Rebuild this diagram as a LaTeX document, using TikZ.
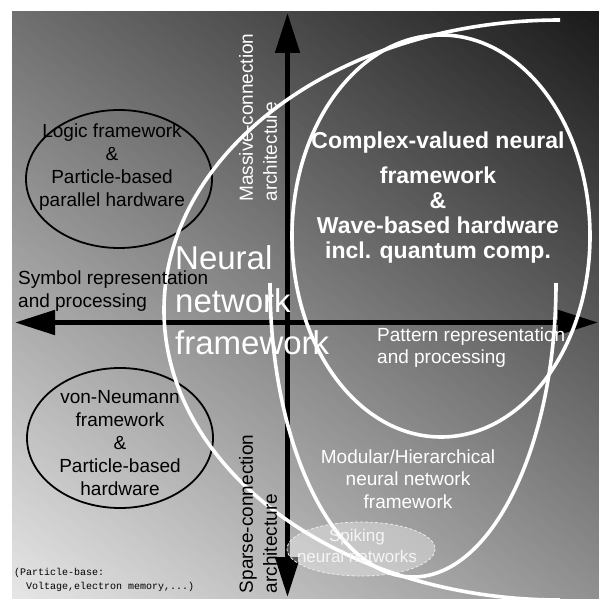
\documentclass[tikz,border=0pt]{standalone}
\usepackage{fontspec}
\setmainfont{Liberation Sans}
\setmonofont{Liberation Mono}
\usetikzlibrary{arrows.meta}

\begin{document}
\begin{tikzpicture}[x=1pt,y=-1pt,
		axisarrow/.style={line width=5pt,{Triangle[length=40pt,width=24pt]}-{Triangle[length=40pt,width=24pt]}},
		whitecurve/.style={draw=white,line width=3.6pt},
		blackring/.style={draw=black,line width=1.8pt},
		lbl/.style={inner sep=0pt,align=center,font=\fontsize{19}{23}\selectfont}]
		\useasboundingbox (0,0) rectangle (599,599);
		% background, diagonal grey ramp in strips
		\begin{scope}
			\clip (12,12) rectangle (599,598);
			\foreach \s in {-348,-342,...,480} {
				\pgfmathtruncatemacro\g{min(255,max(0,112+0.2504*(\s+3)))}
				\fill[fill={rgb,255:red,\g;green,\g;blue,\g}]
				({12-0.585*(\s)-0.811*900},{12+0.811*(\s)-0.585*900}) --
				({12-0.585*(\s)+0.811*900},{12+0.811*(\s)+0.585*900}) --
				({12-0.585*(\s+6.5)+0.811*900},{12+0.811*(\s+6.5)+0.585*900}) --
				({12-0.585*(\s+6.5)-0.811*900},{12+0.811*(\s+6.5)-0.585*900}) -- cycle;
			}
		\end{scope}
		% axes
		\coordinate (left) at (15,322.5);
		\coordinate (right) at (598,322.5);
		\coordinate (top) at (287.5,13);
		\coordinate (bottom) at (287.5,597);
		\draw[axisarrow] (left) -- (right);
		\draw[axisarrow] (top) -- (bottom);
		% black rings
		\draw[blackring] (119,179) ellipse[x radius=93,y radius=69];
		\draw[blackring] (120,438) ellipse[x radius=93,y radius=70];
		% spiking
		\draw[draw=white!85!gray,densely dashed,line width=0.8pt,fill=white,fill opacity=0.35] (361,549) ellipse[x radius=74,y radius=27];
		% white curves
		\draw[whitecurve] (441,236) ellipse[x radius=149,y radius=201];
		\draw[whitecurve] (270,283) arc[start angle=180,end angle=0,x radius=143,y radius=294];
		\draw[whitecurve] (560,20) arc[start angle=270,end angle=90,x radius=396,y radius=290];
		% texts
		\node[lbl] (logic) at (112,167) {Logic framework\\\&\\Particle-based\\parallel hardware};
		\node[lbl] (vonneumann) at (120,443) {von-Neumann\\framework\\\&\\Particle-based\\hardware};
		\node[lbl,align=left,anchor=west] (symbol) at (18,291.5) {Symbol representation\\and processing};
		\node[lbl,align=left,anchor=west,text=white,font=\fontsize{19}{22}\selectfont] (pattern) at (377,347.5) {Pattern representation\\and processing};
		\node[lbl,align=left,anchor=west,text=white,font=\fontsize{33}{42.5}\selectfont] (neural) at (175,300.5) {Neural\\network\\framework};
		\node[lbl,text=white,font=\bfseries\fontsize{23}{25}\selectfont] (complex) at (438,197.5) {Complex-valued neural\\[10pt]framework\\\&\\Wave-based hardware\\incl. quantum comp.};
		\node[lbl,text=white,font=\fontsize{19}{22.5}\selectfont] (modular) at (408,479) {Modular/Hierarchical\\neural network\\framework};
		\node[lbl,text=white!92!gray,font=\fontsize{17}{21.3}\selectfont] (spiking) at (357,546) {Spiking\\neural networks};
		\node[lbl,align=left,rotate=90,text=white,font=\fontsize{19}{24}\selectfont] (massive) at (258,117.5) {Massive-connection\\architecture};
		\node[lbl,align=left,rotate=90,font=\fontsize{19}{24}\selectfont] (sparse) at (258,514) {Sparse-connection\\architecture};
		\node[lbl,align=left,anchor=west,font=\ttfamily\fontsize{10}{14}\selectfont] (particle) at (14,580) {(Particle-base:\\\ \ Voltage,electron memory,...)};
	\end{tikzpicture}
\end{document}
